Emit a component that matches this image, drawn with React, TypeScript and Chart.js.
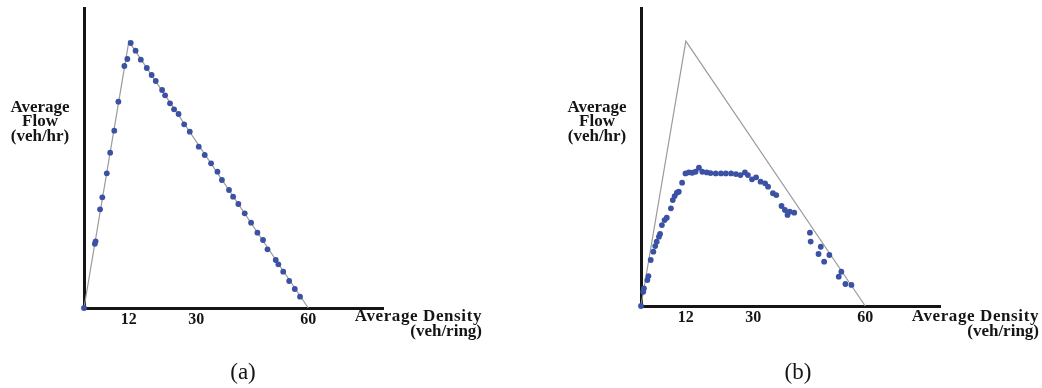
import React, { useEffect, useRef } from "react";
import { Chart, registerables } from "chart.js";

Chart.register(...registerables);

// ---- data ----
const xTickValues = [12, 30, 60];
const X_MAX = 80;
const Y_MAX = 1800;

// fundamental diagram (triangle)
const triangleDensity = [0, 12, 60];
const triangleFlow = [0, 1600, 0];

// panel (a) simulated points
const densityA = [0, 2.9, 3.1, 4.3, 4.9, 6.1, 7.0, 8.1, 9.2, 10.8, 11.6, 12.5, 13.8, 15.2, 16.8, 18.1, 19.2, 20.9, 21.7, 23.0, 24.1, 25.3, 26.8, 28.3, 30.7, 32.3, 34.0, 35.7, 36.9, 38.8, 39.9, 41.3, 43.0, 44.7, 46.4, 47.9, 49.1, 51.3, 52.0, 53.3, 54.9, 56.4, 57.8];
const flowA = [0, 385, 400, 592, 664, 808, 932, 1064, 1238, 1452, 1494, 1590, 1544, 1490, 1440, 1398, 1362, 1308, 1276, 1228, 1192, 1164, 1102, 1058, 968, 918, 868, 818, 768, 708, 668, 624, 568, 512, 452, 408, 352, 288, 262, 218, 162, 114, 68];

// panel (b) simulated points
const densityB = [0, 0.6, 0.8, 1.7, 2.0, 2.6, 3.3, 3.8, 4.2, 4.8, 5.1, 5.6, 6.3, 6.9, 8.0, 8.5, 9.0, 9.6, 10.1, 11.0, 11.9, 12.8, 13.7, 14.6, 15.5, 16.4, 17.6, 18.6, 20.0, 21.4, 22.7, 24.1, 25.4, 26.6, 27.8, 28.6, 29.7, 30.8, 32.0, 33.2, 34.0, 35.3, 36.2, 37.6, 38.5, 39.2, 39.8, 41.0, 45.2, 45.4, 48.1, 47.5, 50.4, 49.0, 53.6, 52.9, 54.7, 56.3];
const flowB = [0, 86, 107, 157, 181, 278, 328, 362, 388, 419, 435, 489, 519, 533, 590, 640, 664, 684, 690, 745, 801, 807, 805, 811, 835, 811, 807, 803, 801, 801, 801, 801, 797, 791, 807, 791, 765, 777, 751, 741, 721, 681, 670, 604, 580, 550, 570, 564, 443, 389, 358, 314, 308, 268, 207, 177, 133, 127];

const flowLabelLines = ["Average", "Flow", "(veh/hr)"];
const densityLabelLines = ["Average Density", "(veh/ring)"];

const SERIF = '"Liberation Serif", "Times New Roman", serif';

const labelPlugin = {
  id: "panelLabels",
  afterDraw(chart: any, _args: any, opts: any) {
    const ctx = chart.ctx;
    const { left, right } = chart.chartArea;
    ctx.save();
    ctx.fillStyle = "#151515";
    ctx.textBaseline = "middle";
    ctx.textAlign = "center";
    ctx.font = `bold 17px ${SERIF}`;
    const fx = left - 44;
    const fy = [108, 122, 137];
    flowLabelLines.forEach((t, i) => ctx.fillText(t, fx, fy[i]));
    ctx.textAlign = "right";
    const dx = right + 99;
    const dy = [317, 332];
    densityLabelLines.forEach((t, i) => {
      ctx.letterSpacing = i === 0 ? "0.6px" : "0px";
      ctx.fillText(t, dx, dy[i]);
    });
    ctx.letterSpacing = "0px";
    ctx.textAlign = "center";
    ctx.font = `23px ${SERIF}`;
    ctx.fillText(opts.caption, opts.captionX, 373);
    ctx.restore();
  },
};

function buildConfig(dens: number[], flow: number[], caption: string, captionX: number, pad: any, yWidth: number, xHeight: number): any {
  return {
    type: "scatter",
    data: {
      datasets: [
        {
          label: "Fundamental diagram",
          data: triangleDensity.map((d, i) => ({ x: d, y: triangleFlow[i] })),
          showLine: true,
          borderColor: "#9a9a9a",
          borderWidth: 1.2,
          pointRadius: 0,
          fill: false,
          clip: false,
          order: 2,
        },
        {
          label: "Simulation",
          data: dens.map((d, i) => ({ x: d, y: flow[i] })),
          showLine: false,
          backgroundColor: "#3b51a3",
          borderColor: "#3b51a3",
          borderWidth: 0,
          pointRadius: 2.9,
          clip: false,
          order: 1,
        },
      ],
    },
    options: {
      responsive: false,
      animation: false,
      events: [],
      layout: { padding: pad, autoPadding: false },
      plugins: {
        legend: { display: false },
        tooltip: { enabled: false },
        panelLabels: { caption, captionX },
      },
      scales: {
        x: {
          type: "linear",
          min: 0,
          max: X_MAX,
          grid: { display: false, drawTicks: false },
          border: { display: true, color: "#151515", width: 3 },
          afterBuildTicks: (s: any) => {
            s.ticks = xTickValues.map((v) => ({ value: v }));
          },
          afterFit: (s: any) => {
            s.height = xHeight;
          },
          ticks: {
            padding: 2,
            color: "#151515",
            font: { family: SERIF, size: 16, weight: "bold" },
            callback: (v: any) => String(v),
            maxRotation: 0,
            autoSkip: false,
          },
        },
        y: {
          type: "linear",
          min: 0,
          max: Y_MAX,
          grid: { display: false, drawTicks: false },
          border: { display: true, color: "#151515", width: 3 },
          ticks: { display: false },
          afterFit: (s: any) => {
            s.width = yWidth;
          },
        },
      },
    },
    plugins: [labelPlugin],
  };
}

function Panel(props: { dens: number[]; flow: number[]; caption: string; captionX: number; pad: any; yWidth: number; xHeight: number; left: number }) {
  const ref = useRef<HTMLCanvasElement | null>(null);
  useEffect(() => {
    if (!ref.current) return;
    const chart = new Chart(ref.current, buildConfig(props.dens, props.flow, props.caption, props.captionX, props.pad, props.yWidth, props.xHeight));
    return () => chart.destroy();
  }, []);
  return (
    <canvas
      ref={ref}
      width={521}
      height={388}
      style={{ position: "absolute", left: props.left, top: 0, width: 521, height: 388 }}
    />
  );
}

export default function App() {
  return (
    <div style={{ position: "absolute", left: 0, top: 0, width: 1042, height: 388, background: "#fff", overflow: "hidden" }}>
      <Panel dens={densityA} flow={flowA} caption="(a)" captionX={243} pad={{ left: 0, top: 8, right: 138, bottom: 0 }} yWidth={84} xHeight={80} left={0} />
      <Panel dens={densityB} flow={flowB} caption="(b)" captionX={277} pad={{ left: 0, top: 8, right: 102, bottom: 0 }} yWidth={120} xHeight={82} left={521} />
    </div>
  );
}
